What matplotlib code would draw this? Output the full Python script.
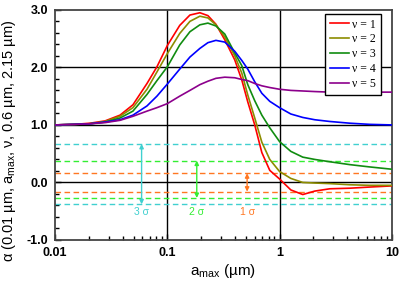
import matplotlib
matplotlib.use('Agg')
import matplotlib.pyplot as plt
import numpy as np

plt.rcParams['font.family'] = ['Liberation Sans', 'DejaVu Sans']
plt.rcParams['mathtext.fontset'] = 'custom'
plt.rcParams['mathtext.rm'] = 'Liberation Sans'
plt.rcParams['mathtext.it'] = 'Liberation Sans:italic'

amax = [0.01, 0.015, 0.0205, 0.0279, 0.0379, 0.0494, 0.0659, 0.0808, 0.1, 0.129,
        0.159, 0.195, 0.230, 0.271, 0.325, 0.399, 0.461, 0.521, 0.601, 0.695,
        0.818, 1.0, 1.26, 1.61, 2.06, 2.80, 4.22, 6.34, 10.0]

nu1 = [1.00, 1.01, 1.03, 1.07, 1.17, 1.35, 1.72, 2.01, 2.38, 2.73,
       2.91, 2.95, 2.90, 2.75, 2.48, 2.13, 1.78, 1.40, 1.00, 0.52,
       0.21, 0.06, -0.13, -0.21, -0.15, -0.11, -0.10, -0.08, -0.06]
nu2 = [1.00, 1.01, 1.02, 1.06, 1.15, 1.30, 1.62, 1.92, 2.24, 2.59,
       2.80, 2.89, 2.86, 2.74, 2.53, 2.20, 1.90, 1.52, 1.12, 0.70,
       0.40, 0.19, 0.07, 0.00, -0.01, -0.02, -0.04, -0.05, -0.05]
nu3 = [1.00, 1.01, 1.02, 1.05, 1.12, 1.24, 1.53, 1.77, 2.01, 2.39,
       2.62, 2.74, 2.77, 2.72, 2.58, 2.25, 2.03, 1.70, 1.42, 1.17,
       0.95, 0.71, 0.54, 0.44, 0.40, 0.36, 0.31, 0.27, 0.23]
nu4 = [1.00, 1.01, 1.02, 1.05, 1.09, 1.17, 1.33, 1.50, 1.71, 1.97,
       2.18, 2.33, 2.43, 2.47, 2.44, 2.28, 2.12, 1.97, 1.75, 1.55,
       1.41, 1.30, 1.19, 1.13, 1.09, 1.06, 1.03, 1.01, 1.00]
nu5 = [1.00, 1.01, 1.02, 1.04, 1.08, 1.15, 1.24, 1.30, 1.37, 1.50,
       1.60, 1.70, 1.76, 1.81, 1.83, 1.82, 1.79, 1.77, 1.72, 1.68,
       1.65, 1.62, 1.60, 1.59, 1.58, 1.57, 1.57, 1.57, 1.57]

curves = [nu1, nu2, nu3, nu4, nu5]
labels = ['ν = 1', 'ν = 2', 'ν = 3', 'ν = 4', 'ν = 5']
colors = ['#ff0000', '#8c8c00', '#108c10', '#0000ff', '#8c008c']

# sigma bands: (upper, lower) levels, arrow position, label
sig_names = ['3 σ', '2 σ', '1 σ']
sig_upper = [0.67, 0.38, 0.16]
sig_lower = [-0.38, -0.27, -0.16]
sig_xpos = [0.059, 0.183, 0.514]
sig_colors = ['#40d0d0', '#33ee33', '#ff7722']

fig = plt.figure(figsize=(3.99, 2.82), dpi=100)
ax = fig.add_axes([0.138, 0.149, 0.844, 0.816])

for yy in [0.0, 1.0, 2.0]:
    ax.axhline(yy, color='black', lw=1.0, zorder=1)
for xx in [0.1, 1.0]:
    ax.axvline(xx, color='black', lw=1.0, zorder=1)

for i in range(len(sig_names)):
    c = sig_colors[i]
    ax.axhline(sig_upper[i], color=c, lw=1.0, ls=(0, (4, 2.5)), zorder=2)
    ax.axhline(sig_lower[i], color=c, lw=1.0, ls=(0, (4, 2.5)), zorder=2)
    ax.annotate('', xy=(sig_xpos[i], sig_lower[i]), xytext=(sig_xpos[i], sig_upper[i]),
                arrowprops=dict(arrowstyle='<|-|>', color=c, lw=1.0,
                                mutation_scale=6, shrinkA=0, shrinkB=0), zorder=3)
    ax.text(sig_xpos[i], -0.52, sig_names[i], color=c, fontsize=7.5,
            ha='center', va='center')

for i in range(len(curves)):
    ax.plot(amax, curves[i], color=colors[i], lw=1.2, label=labels[i], zorder=4)

ax.set_xscale('log')
ax.set_xlim(0.01, 10)
ax.set_ylim(-1.0, 3.0)
ax.set_xticks([0.01, 0.1, 1, 10])
ax.set_xticklabels(['0.01', '0.1', '1', '10'])
ax.set_yticks([-1, 0, 1, 2, 3])
ax.set_yticklabels(['-1.0', '0.0', '1.0', '2.0', '3.0'])
ax.set_yticks(np.arange(-1.0, 3.01, 0.2), minor=True)
ax.xaxis.set_minor_locator(matplotlib.ticker.LogLocator(base=10, subs=np.arange(2, 10)))
ax.xaxis.set_minor_formatter(matplotlib.ticker.NullFormatter())
ax.tick_params(which='both', direction='in', top=False, right=False)
ax.tick_params(which='major', length=4, width=1, pad=5, labelsize=9)
ax.tick_params(which='minor', length=3, width=1)
for lab in ax.get_xticklabels() + ax.get_yticklabels():
    lab.set_fontweight('bold')
for s in ax.spines.values():
    s.set_color('#444444')
    s.set_linewidth(1.3)

ax.set_xlabel(r'a$_{\rm max}$ (µm)', fontsize=11, labelpad=2)
fig.text(0.022, 0.5, r'α (0.01 µm, a$_{\rm max}$, ν, 0.6 µm, 2.15 µm)', fontsize=10.5,
         rotation=90, ha='center', va='center')

leg = ax.legend(loc='upper right', bbox_to_anchor=(0.967, 0.983), borderaxespad=0,
                fancybox=False, edgecolor='black', framealpha=1, handlelength=1.6,
                handletextpad=0.3, labelspacing=0.25, borderpad=0.4,
                prop={'family': 'Liberation Serif', 'size': 8.5})
leg.get_frame().set_linewidth(1.0)

fig.savefig('out.png', dpi=100)
